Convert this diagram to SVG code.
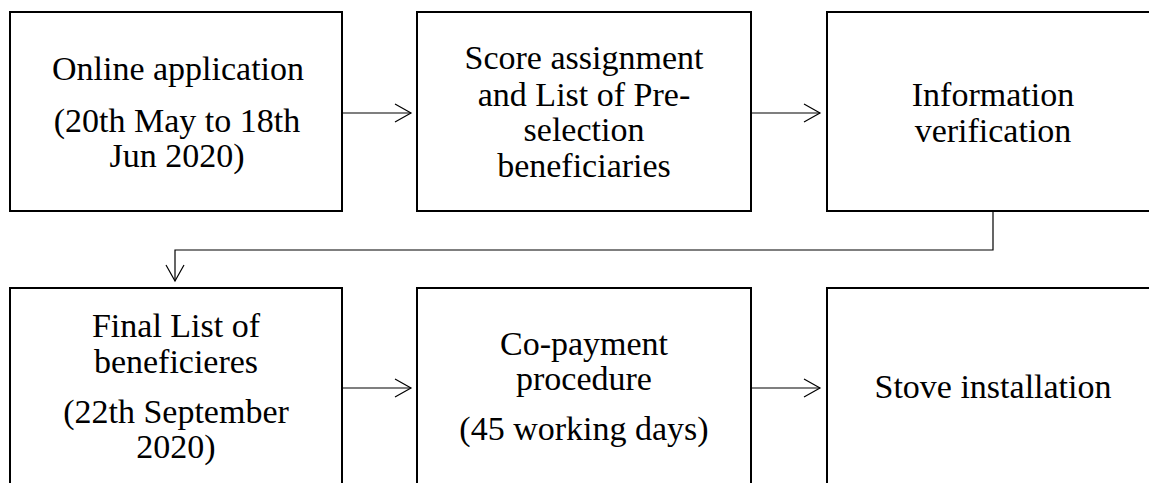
<svg xmlns="http://www.w3.org/2000/svg" width="1149" height="483" viewBox="0 0 1149 483">
<style>
.box{fill:#fff;stroke:#000;stroke-width:2}
.t{font-family:"Liberation Serif","Times New Roman",serif;font-size:34px;fill:#000;text-anchor:middle}
.c{fill:none;stroke:#000;stroke-width:1.2}
</style>
<defs>
<marker id="ah" markerUnits="userSpaceOnUse" markerWidth="20" markerHeight="22" refX="17" refY="10" orient="auto" viewBox="0 0 20 20">
<path d="M1,1 L17,10 L1,19" fill="none" stroke="#000" stroke-width="1.2"/>
</marker>
</defs>
<rect width="1149" height="483" fill="#fff"/>
<g id="connectors">
<path class="c" d="M342,113 H411" marker-end="url(#ah)"/>
<path class="c" d="M751,113 H820" marker-end="url(#ah)"/>
<path class="c" d="M993,211 V250 H175 V281" marker-end="url(#ah)"/>
<path class="c" d="M342,388 H411" marker-end="url(#ah)"/>
<path class="c" d="M751,388 H820" marker-end="url(#ah)"/>
</g>
<g id="n1">
<rect class="box" x="10" y="12" width="332" height="199"/>
<text class="t" x="178" y="80">Online application</text>
<text class="t" x="177" y="132">(20th May to 18th</text>
<text class="t" x="177" y="167">Jun 2020)</text>
</g>
<g id="n2">
<rect class="box" x="417" y="12" width="334" height="199"/>
<text class="t" x="584" y="69">Score assignment</text>
<text class="t" x="584" y="106">and List of Pre-</text>
<text class="t" x="584" y="141">selection</text>
<text class="t" x="584" y="177">beneficiaries</text>
</g>
<g id="n3">
<rect class="box" x="827" y="12" width="334" height="199"/>
<text class="t" x="993" y="106">Information</text>
<text class="t" x="993" y="142">verification</text>
</g>
<g id="n4">
<rect class="box" x="10" y="288" width="332" height="210"/>
<text class="t" x="176" y="337">Final List of</text>
<text class="t" x="176" y="373">beneficieres</text>
<text class="t" x="176" y="423">(22th September</text>
<text class="t" x="176" y="458">2020)</text>
</g>
<g id="n5">
<rect class="box" x="417" y="288" width="334" height="210"/>
<text class="t" x="584" y="355">Co-payment</text>
<text class="t" x="584" y="390">procedure</text>
<text class="t" x="584" y="440">(45 working days)</text>
</g>
<g id="n6">
<rect class="box" x="827" y="288" width="334" height="210"/>
<text class="t" x="993" y="398">Stove installation</text>
</g>
</svg>
